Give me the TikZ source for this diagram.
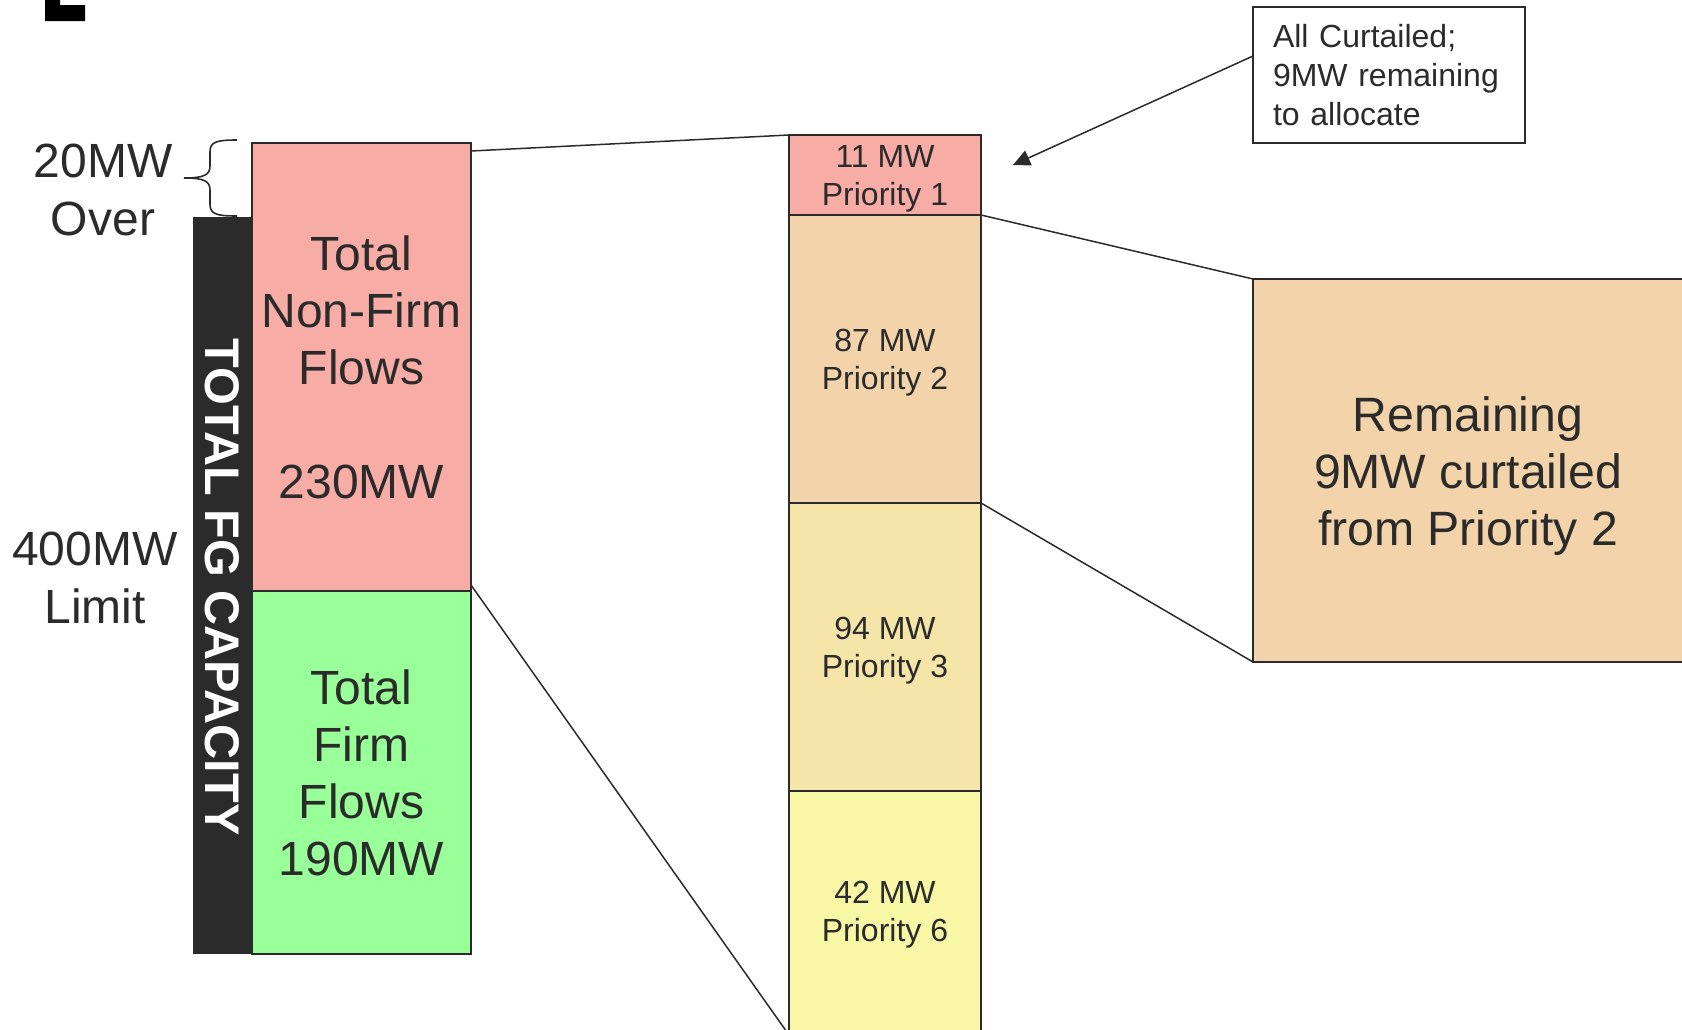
\documentclass[tikz,border=0pt]{standalone}
\usepackage{fontspec}
\setmainfont{Liberation Sans}
\usetikzlibrary{arrows.meta}
\definecolor{ink}{HTML}{2B2B2B}
\definecolor{pinkc}{RGB}{247,173,166}
\definecolor{greenc}{RGB}{153,255,153}
\definecolor{peachc}{RGB}{243,211,170}
\definecolor{sandc}{RGB}{245,229,168}
\definecolor{lemonc}{RGB}{248,247,166}
\begin{document}
\begin{tikzpicture}[x=0.5pt,y=-0.5pt,
  box/.style={draw=ink, line width=1pt, inner sep=0pt, outer sep=0pt, text=ink, align=center},
  big/.style={font=\fontsize{24}{28.5}\selectfont},
  small/.style={text=ink, align=center, inner sep=0pt, font=\fontsize{16}{19}\selectfont},
  lbl/.style={text=ink, align=center, inner sep=0pt, font=\fontsize{24}{29}\selectfont},
  link/.style={draw=ink, line width=0.75pt}]
\useasboundingbox (0,0) rectangle (1682,1029);
\clip (0,0) rectangle (1682,1029);

% corner mark
\fill[black] (45,0) -- (60,0) -- (60,5) -- (85,5) -- (85,21) -- (45,21) -- cycle;

% left stack
\node[fill=ink, minimum width=29.5pt, minimum height=368.5pt, inner sep=0pt, outer sep=0pt] (bar) at (222.5,585.5) {};
\node[rotate=-90, text=white, inner sep=0pt, font=\bfseries\fontsize{24.3}{28}\selectfont] (cap) at (222.5,587) {TOTAL FG CAPACITY};
\node[box, big, fill=pinkc, minimum width=109.5pt, minimum height=224pt] (nonfirm) at (361.5,367) {Total\\Non-Firm\\Flows\\[28.5pt]230MW};
\node[box, big, fill=greenc, minimum width=109.5pt, minimum height=181.5pt] (firm) at (361.5,772.5) {Total\\Firm\\Flows\\190MW};

% left labels
\node[lbl] (over) at (103,190) {20MW\\Over};
\node[lbl] (limit) at (95,578) {400MW\\Limit};
\draw[ink, line width=0.8pt] (237,140) .. controls (216,140) and (210,142) .. (210,152) -- (210,166)
  .. controls (210,175) and (204,178) .. (184,178)
  .. controls (204,178) and (210,181) .. (210,190) -- (210,204)
  .. controls (210,214) and (216,216) .. (237,216);

% priority column
\node[box, fill=pinkc, minimum width=96pt, minimum height=40pt] (p1) at (885,175) {};
\node[box, fill=peachc, minimum width=96pt, minimum height=144pt] (p2) at (885,359) {};
\node[box, fill=sandc, minimum width=96pt, minimum height=144pt] (p3) at (885,647) {};
\node[box, fill=lemonc, minimum width=96pt, minimum height=122pt] (p6) at (885,913) {};
\node[small] (t1) at ([yshift=-2pt]p1.center) {11 MW\\Priority 1};
\node[small] (t2) at ([yshift=-2pt]p2.center) {87 MW\\Priority 2};
\node[small] (t3) at ([yshift=-2pt]p3.center) {94 MW\\Priority 3};
\node[small] (t6) at ([yshift=-1pt]p6.center) {42 MW\\Priority 6};

% right box
\node[box, fill=peachc, minimum width=215pt, minimum height=191.5pt] (rem) at (1468,470.5) {};
\node[text=ink, align=center, inner sep=0pt, font=\fontsize{24.1}{28.5}\selectfont] (remtext) at ([yshift=-2.7pt]rem.center) {Remaining\\9MW curtailed\\from Priority 2};

% callout
\node[box, fill=white, text width=116pt, inner xsep=10pt, minimum height=68pt, align=left, font=\fontsize{16}{19.5}\selectfont] (callout) at (1389,75) {\raisebox{-1pt}{All Curtailed;}\\\raisebox{-1pt}{9MW remaining}\\\raisebox{-1pt}{to allocate}};
\coordinate (tip) at (1013,165);

% connectors
\draw[link] ([yshift=-4pt]nonfirm.north east) -- (p1.north west);
\draw[link] ([yshift=3pt]nonfirm.south east) -- (p6.south west);
\draw[link] (p1.south east) -- (rem.north west);
\draw[link] (p2.south east) -- (rem.south west);
\draw[link, -{Triangle[length=8.5pt,width=8pt]}] ([yshift=9.5pt]callout.west) -- (tip);
\end{tikzpicture}
\end{document}
